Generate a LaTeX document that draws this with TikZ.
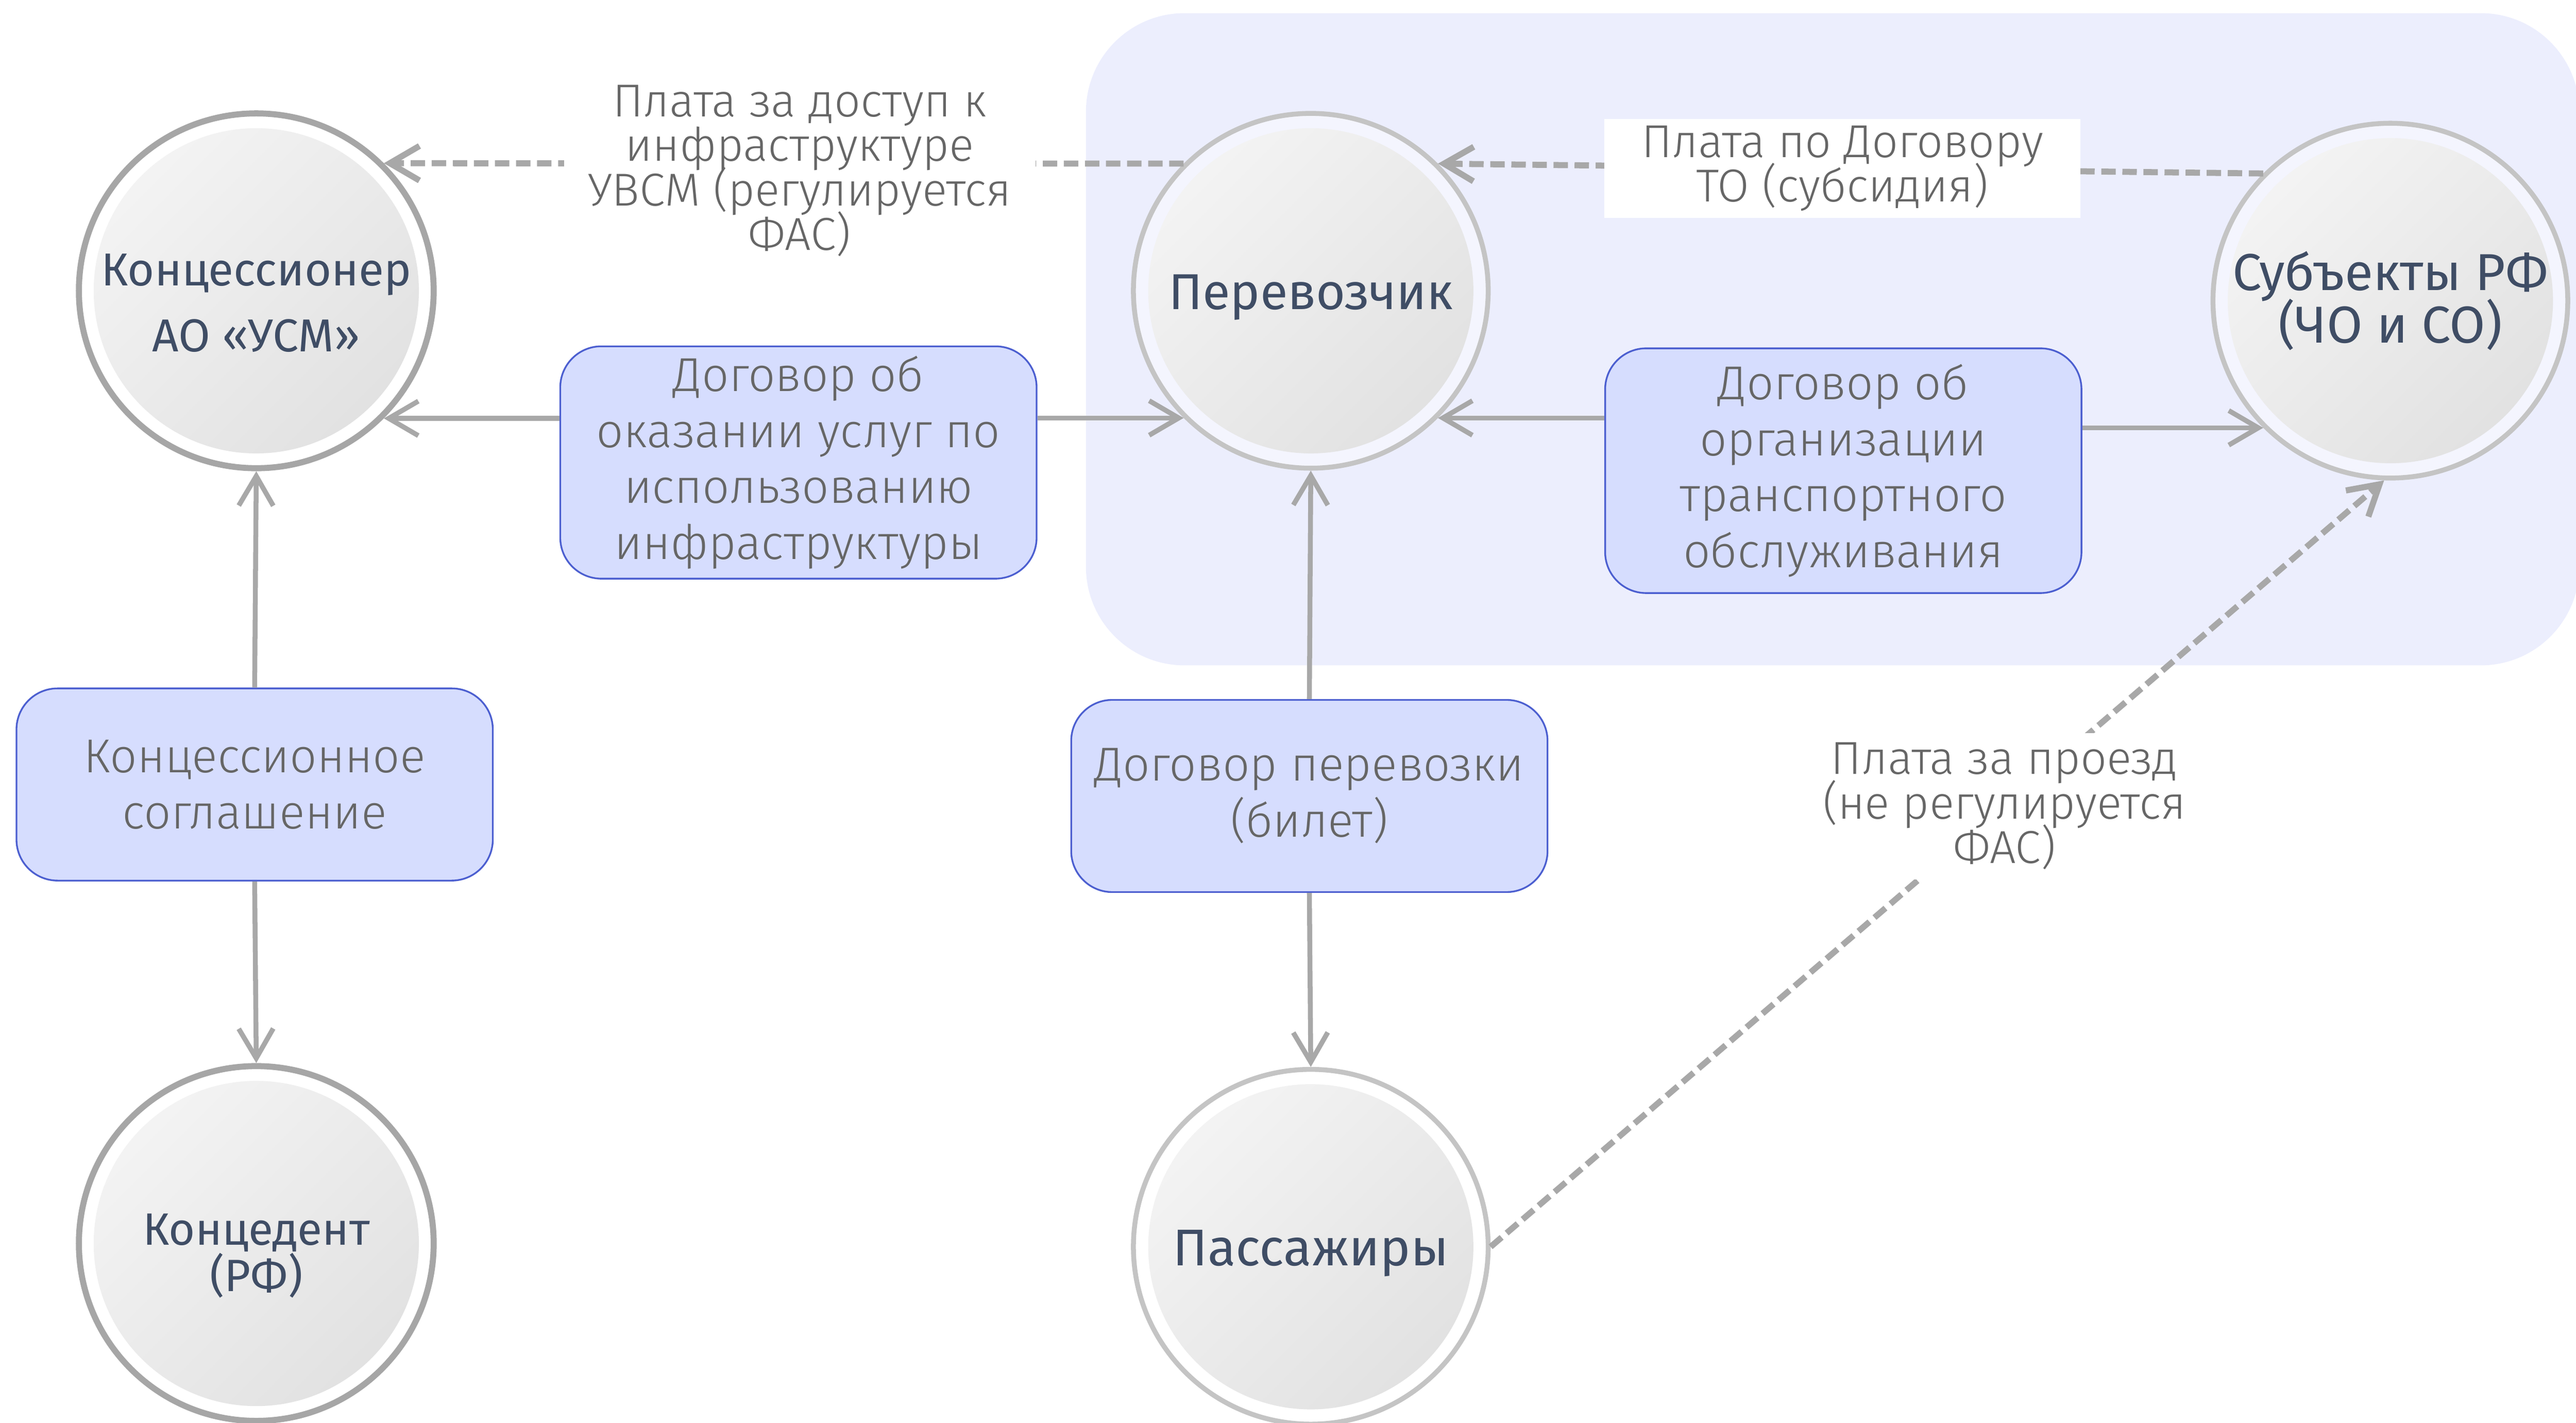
\documentclass[tikz,border=0pt]{standalone}
\usepackage{fontspec}
\setmainfont{Fira Sans Light}
\newfontfamily\nodefont{Fira Sans}
\usetikzlibrary{arrows.meta,positioning}
\definecolor{bgblue}{HTML}{ECEEFD}
\definecolor{boxfill}{HTML}{D6DDFE}
\definecolor{boxline}{HTML}{4C5FD0}
\definecolor{ringdark}{HTML}{A6A6A6}
\definecolor{ringlight}{HTML}{C4C4C4}
\definecolor{gapblue}{HTML}{F4F5FE}
\definecolor{linegray}{HTML}{A8A8A8}
\definecolor{nodetext}{HTML}{3F4D65}
\definecolor{labeltext}{HTML}{666666}
\definecolor{shadehi}{HTML}{F4F4F4}
\definecolor{shadelo}{HTML}{E1E1E1}

\begin{document}
\lineskiplimit=-100pt
\begin{tikzpicture}[x=0.02cm, y=-0.02cm, >={Straight Barb[length=0.36cm,width=0.42cm]}, node distance=12.84cm,
	main node/.style={circle, draw=ringdark, line width=2.1pt, fill=white, minimum size=4.32cm, inner sep=0pt,
		path picture={\shade[top color=shadehi, bottom color=shadelo, shading angle=45] (path picture bounding box.center) circle (1.98cm);}},
	light node/.style={main node, draw=ringlight, line width=1.7pt},
	name text/.style={align=center, text=nodetext, inner sep=0pt},
	deal node/.style={rectangle, rounded corners=0.5cm, draw=boxline, line width=0.6pt, fill=boxfill, text=labeltext, minimum width=5.8cm, align=center, font=\fontsize{16.5}{19.4}\selectfont},
	pay label/.style={fill=white, text=labeltext, align=center, inner sep=1pt, font=\fontsize{16}{15.4}\selectfont},
	link/.style={->, draw=linegray, line width=1.7pt},
	pay/.style={link, line width=2.1pt, dash pattern=on 5pt off 2.3pt}]
	\useasboundingbox (0,0) rectangle (1568,866);
	\fill[bgblue, rounded corners=1.2cm] (661,8) rectangle (1570,405);

	% participants
	\node[main node, label={[name text, font=\nodefont\fontsize{16}{22.8}\selectfont, yshift=-0.15cm]center:{Концессионер\\АО «УСМ»}}] (kons) at (156,177) {};
	\node[light node, fill=gapblue, label={[name text, font=\nodefont\fontsize{17.5}{21}\selectfont, yshift=-0.08cm]center:Перевозчик}] (perev) [right of=kons] {};
	\node[light node, fill=gapblue, label={[name text, font=\nodefont\fontsize{18}{18.2}\selectfont]center:{Субъекты РФ\\(ЧО и СО)}}] (subj) at (1455,183) {};
	\node[main node, label={[name text, font=\nodefont\fontsize{15.7}{16}\selectfont, yshift=-0.15cm]center:{Концедент\\(РФ)}}] (konc) [below of=kons, node distance=11.6cm] {};
	\node[light node, label={[name text, font=\nodefont\fontsize{17.9}{21}\selectfont, yshift=-0.08cm]center:Пассажиры}] (pass) [below of=perev, node distance=11.64cm] {};

	% contracts
	\node[deal node, minimum height=2.78cm] (infra) at (486,281.5) {Договор об\\оказании услуг по\\использованию\\инфраструктуры};
	\node[deal node, minimum height=2.98cm] (to) at (1122,286.5) {Договор об\\организации\\транспортного\\обслуживания};
	\node[deal node, minimum height=2.34cm] (konsdeal) at (155,477.5) {Концессионное\\соглашение};
	\node[deal node, minimum height=2.34cm] (ticket) at (797,484.5) {Договор перевозки\\(билет)};

	\path
		(infra.west |- kons.-45) edge[link] (kons.-45)
		(infra.east |- perev.-135) edge[link] (perev.-135)
		(to.west |- perev.-45) edge[link] (perev.-45)
		(to.east |- subj.-135) edge[link] (subj.-135)
		(konsdeal.north) edge[link] (kons.south)
		(konsdeal.south) edge[link] (konc.north)
		(ticket.north) edge[link] (perev.south)
		(ticket.south) edge[link] (pass.north);

	% payments
	\path
		(perev.135) edge[pay] node[pay label, pos=0.48, minimum width=5.74cm, yshift=-0.09cm] {Плата за доступ к\\инфраструктуре\\УВСМ (регулируется\\ФАС)} (kons.45)
		(subj.135) edge[pay] node[pay label, pos=0.51, minimum width=5.8cm, minimum height=1.2cm] {Плата по Договору\\ТО (субсидия)} (perev.45)
		(pass.east) edge[pay] node[pay label, pos=0.575, minimum height=1.78cm] {Плата за проезд\\(не регулируется\\ФАС)} (subj.-92);
\end{tikzpicture}
\end{document}
